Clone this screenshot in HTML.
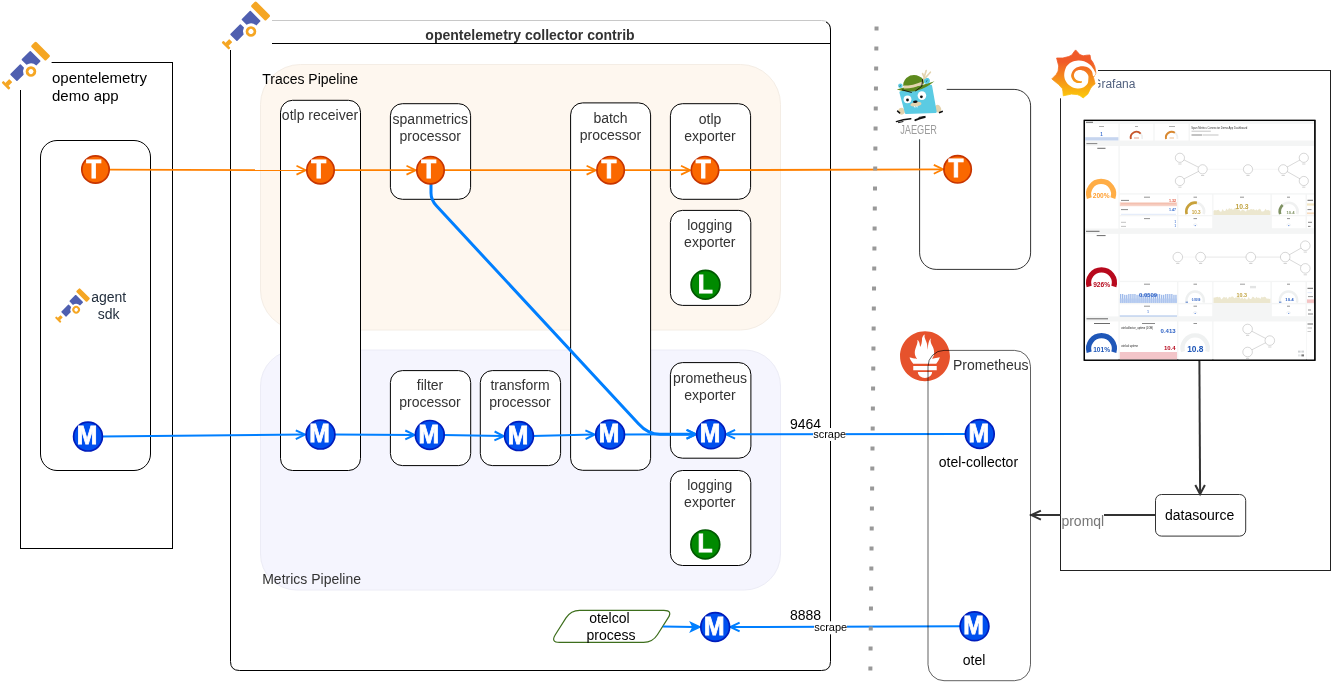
<!DOCTYPE html>
<html lang="en">
<head>
<meta charset="utf-8">
<title>OpenTelemetry collector pipelines</title>
<style>
html,body{margin:0;padding:0;background:#fff;}
body{width:1331px;height:686px;overflow:hidden;}
svg{display:block;will-change:transform;}
text{font-family:"Liberation Sans",Helvetica,Arial,sans-serif;}
.b{fill:#fff;stroke:#000;stroke-width:1;}
.bs{fill:none;stroke:#000;stroke-width:1;}
.lbl{font-size:14px;fill:#333;text-anchor:middle;}
.blk{font-size:14px;fill:#000;}
.ol{stroke:#ff8000;stroke-width:1.8;fill:none;}
.bl{stroke:#007fff;stroke-width:2;fill:none;}
.gl{stroke:#333;stroke-width:2;fill:none;}
.ct{font-size:26px;font-weight:bold;fill:#fff;text-anchor:middle;stroke:#fff;stroke-width:0.8px;}
</style>
</head>
<body>
<svg width="1331" height="686" viewBox="0 0 1331 686">
<defs>
<!-- icon symbols -->
<g id="otel">
  <rect x="-3.3" y="-10.3" width="7.2" height="21" rx="1.5" fill="#f5a623"/>
  <path d="M-7.4,-7.4 H-18.5 Q-19.3,-7.4 -19.3,-6.6 V-0.05 A8,8 0 0 1 -12.9,7.4 H-7.4 Q-6.6,7.4 -6.6,6.6 V-6.6 Q-6.6,-7.4 -7.4,-7.4 Z" fill="#4f5fb0"/>
  <circle cx="-20.9" cy="7.85" r="3.9" fill="none" stroke="#f5a623" stroke-width="2.8"/>
  <path d="M-23.9,-4.95 H-37 Q-37.8,-4.95 -37.8,-4.15 V4.1 Q-37.8,4.9 -37,4.9 H-28.33 A8,8 0 0 1 -23.1,0.16 V-4.15 Q-23.1,-4.95 -23.9,-4.95 Z" fill="#4f5fb0"/>
  <rect x="-47.4" y="-2.2" width="5.8" height="4.4" rx="0.6" fill="#f5a623"/>
  <rect x="-49.6" y="-5.1" width="2.7" height="10.1" rx="0.9" fill="#f5a623"/>
</g>
<g id="cT">
  <circle r="13.7" fill="#fa6800" stroke="#c73500" stroke-width="1.7"/>
  <text class="ct" transform="translate(-1.7,8) scale(0.94,1)" x="0" y="0">T</text>
</g>
<g id="cM">
  <circle r="14.4" fill="#0050ef" stroke="#001dbc" stroke-width="1.7"/>
  <text class="ct" transform="translate(-1,7.8) scale(0.95,1)" x="0" y="0">M</text>
</g>
<g id="cL">
  <circle r="14.4" fill="#008a00" stroke="#005700" stroke-width="1.7"/>
  <text class="ct" transform="translate(-0.3,8) scale(0.95,1)" x="0" y="0">L</text>
</g>
<linearGradient id="gg" x1="0" y1="0" x2="0" y2="1">
  <stop offset="0" stop-color="#f05a28"/>
  <stop offset="0.25" stop-color="#f05a28"/>
  <stop offset="1" stop-color="#fbca0a"/>
</linearGradient>
</defs>
<rect width="1331" height="686" fill="#fff"/>
<g id="regions">
  <!-- collector container -->
  <path d="M230.5,43.5 V661.5 Q230.5,670.5 239.5,670.5 H821.5 Q830.5,670.5 830.5,661.5 V29.5" fill="#fff" stroke="#000"/>
  <path d="M230.5,43.5 V29.5 Q230.5,20.5 239.5,20.5 H821.5 Q830.5,20.5 830.5,29.5" fill="#fff" stroke="#c8c8c8"/>
  <path d="M826,22 Q830.5,24 830.5,30 V43.5" fill="none" stroke="#000"/>
  <path d="M230.5,43.5 H830.5" fill="none" stroke="#000"/>
  <rect x="260.5" y="64.5" width="520" height="265.5" rx="40" fill="#fef7ef" stroke="#f4ede5"/>
  <rect x="260.5" y="350" width="520" height="240" rx="36" fill="#f5f5fe" stroke="#ececf6"/>
  <!-- demo app -->
  <rect class="b" x="20.5" y="62.5" width="152" height="486"/>
  <!-- grafana -->
  <rect x="1060.5" y="70.5" width="270" height="500" fill="#fff" stroke="#222"/>
</g>
<g id="boxfills" fill="#fff" stroke="none">
  <path d="M566.0,617.9 Q570.8,610.3 579.8,610.3 L663.9,610.3 Q672.9,610.3 668.1,617.9 L657.4,634.8 Q652.6,642.4 643.6,642.4 L559.5,642.4 Q550.5,642.4 555.3,634.8 Z"/>
  <rect x="40.5" y="140.5" width="110" height="330" rx="16.5"/>
  <rect x="280.5" y="100.3" width="80" height="370.2" rx="12"/>
  <rect x="390.4" y="103.7" width="80.2" height="95.6" rx="12"/>
  <rect x="570.6" y="102.9" width="80" height="367.4" rx="12"/>
  <rect x="670.4" y="103.7" width="80.2" height="95.6" rx="12"/>
  <rect x="670.4" y="210.4" width="80.4" height="95" rx="12"/>
  <rect x="390.4" y="370.6" width="80.3" height="95" rx="12"/>
  <rect x="480.3" y="370.6" width="80.3" height="95" rx="12"/>
  <rect x="670.4" y="362.6" width="80.5" height="95.6" rx="12"/>
  <rect x="670.4" y="470.5" width="80.4" height="95" rx="12"/>
  <rect x="919.6" y="89.4" width="111" height="180" rx="16.5"/>
  <rect x="1155.5" y="494.5" width="90.2" height="41.6" rx="6"/>
</g>
<g id="boxstrokes" fill="none" stroke-width="1">
  <path d="M566.0,617.9 Q570.8,610.3 579.8,610.3 L663.9,610.3 Q672.9,610.3 668.1,617.9 L657.4,634.8 Q652.6,642.4 643.6,642.4 L559.5,642.4 Q550.5,642.4 555.3,634.8 Z" stroke="#3d6e1c" stroke-width="1.2"/>
  <rect x="40.5" y="140.5" width="110" height="330" rx="16.5" stroke="#000"/>
  <rect x="280.5" y="100.3" width="80" height="370.2" rx="12" stroke="#000"/>
  <rect x="390.4" y="103.7" width="80.2" height="95.6" rx="12" stroke="#000"/>
  <rect x="570.6" y="102.9" width="80" height="367.4" rx="12" stroke="#000"/>
  <rect x="670.4" y="103.7" width="80.2" height="95.6" rx="12" stroke="#000"/>
  <rect x="670.4" y="210.4" width="80.4" height="95" rx="12" stroke="#000"/>
  <rect x="390.4" y="370.6" width="80.3" height="95" rx="12" stroke="#000"/>
  <rect x="480.3" y="370.6" width="80.3" height="95" rx="12" stroke="#000"/>
  <rect x="670.4" y="362.6" width="80.5" height="95.6" rx="12" stroke="#000"/>
  <rect x="670.4" y="470.5" width="80.4" height="95" rx="12" stroke="#000"/>
  <rect x="919.6" y="89.4" width="111" height="180" rx="16.5" stroke="#333"/>
  <rect x="1155.5" y="494.5" width="90.2" height="41.6" rx="6" stroke="#333"/>
</g>
<g id="edges">
  <path class="ol" d="M108.0,169.6 L304.9,170.2"/>
  <path class="ol" d="M296.5,174.6 L305.7,170.2 L296.5,165.8" stroke-linejoin="miter"/>
  <path class="ol" d="M333.0,170.2 L414.9,170.2"/>
  <path class="ol" d="M406.5,174.6 L415.7,170.2 L406.5,165.8" stroke-linejoin="miter"/>
  <path class="ol" d="M443.0,170.2 L595.0,170.2"/>
  <path class="ol" d="M586.6,174.6 L595.8,170.2 L586.6,165.8" stroke-linejoin="miter"/>
  <path class="ol" d="M623.0,170.2 L689.4,170.2"/>
  <path class="ol" d="M681.0,174.6 L690.2,170.2 L681.0,165.8" stroke-linejoin="miter"/>
  <path class="ol" d="M717.0,170.2 L942.2,169.3"/>
  <path class="ol" d="M933.8,173.7 L943.0,169.3 L933.8,164.9" stroke-linejoin="miter"/>
  <path class="bl" d="M101.0,436.5 L304.2,434.6"/>
  <path class="bl" d="M295.8,439.1 L305.0,434.6 L295.8,430.3" stroke-linejoin="miter"/>
  <path class="bl" d="M334.0,434.6 L413.7,434.9"/>
  <path class="bl" d="M405.3,439.3 L414.5,434.9 L405.3,430.5" stroke-linejoin="miter"/>
  <path class="bl" d="M443.0,434.9 L502.9,436.1"/>
  <path class="bl" d="M494.4,440.3 L503.7,436.1 L494.6,431.5" stroke-linejoin="miter"/>
  <path class="bl" d="M532.0,436.1 L593.9,434.5"/>
  <path class="bl" d="M585.6,439.1 L594.7,434.5 L585.4,430.3" stroke-linejoin="miter"/>
  <path class="bl" d="M624.0,434.4 L695.4,434.3"/>
  <path class="bl" d="M687.0,438.7 L696.2,434.3 L687.0,429.9" stroke-linejoin="miter"/>
  <path class="bl" d="M966.0,434.0 L726.7,434.3"/>
  <path class="bl" d="M735.1,429.9 L725.9,434.3 L735.1,438.7" stroke-linejoin="miter"/>
  <path class="bl" d="M961.0,626.2 L731.2,627.0"/>
  <path class="bl" d="M739.6,622.6 L730.4,627.0 L739.6,631.4" stroke-linejoin="miter"/>
  <path d="M431,183 V193 Q431,200 436.4,205.8 L638.5,423.7 Q648,434.3 660,434.3 H694" fill="none" stroke="#007fff" stroke-width="3"/>
  <path d="M686.4,429.9 L695.6,434.3 L686.4,438.7" fill="none" stroke="#007fff" stroke-width="2.1"/>
  <path class="bl" d="M663,626.6 L694,627"/>
  <path d="M700,627 L690.8,622.7 L693,627 L690.8,631.3 Z" fill="#007fff" stroke="#007fff" stroke-width="1.5" stroke-linejoin="miter"/>
  <path class="gl" d="M1199.4,360.5 L1200.1,493.2"/>
  <path class="gl" d="M1195.3,485.0 L1200.1,494.0 L1204.9,485.0" stroke-linejoin="miter"/>
  <path class="gl" d="M1155.5,515.1 L1032.1,515.1"/>
  <path class="gl" d="M1040.9,510.6 L1031.3,515.1 L1040.9,519.6" stroke-linejoin="miter"/>
  <path d="M876.55,26.6 L870.35,672.3" fill="none" stroke="#999" stroke-width="4" stroke-dasharray="4 16.001"/>
</g>
<g id="icons">
  <rect x="0" y="40" width="51.6" height="50" fill="#fff"/>
  <use href="#otel" transform="translate(40.2,51.2) rotate(-45)"/>
  <rect x="220" y="0" width="52" height="50" fill="#fff"/>
  <use href="#otel" transform="translate(260.2,11.1) rotate(-45)"/>
  <use href="#otel" transform="translate(82.8,295.1) rotate(-45) scale(0.72)"/>
  <use href="#cT" x="95.5" y="169.5"/>
  <use href="#cT" x="320.5" y="170.2"/>
  <use href="#cT" x="430.5" y="170.2"/>
  <use href="#cT" x="610.6" y="170.2"/>
  <use href="#cT" x="705" y="170.2"/>
  <use href="#cT" x="957.6" y="169.3"/>
  <use href="#cM" x="88" y="436.6"/>
  <use href="#cM" x="320.5" y="434.6"/>
  <use href="#cM" x="429.8" y="434.9"/>
  <use href="#cM" x="519" y="436.1"/>
  <use href="#cM" x="610.1" y="434.5"/>
  <use href="#cM" x="711" y="434.3"/>
  <use href="#cM" x="979.8" y="434"/>
  <use href="#cM" x="715.2" y="627"/>
  <use href="#cM" x="974.5" y="626.3"/>
  <use href="#cL" x="705.5" y="284.7"/>
  <use href="#cL" x="705.3" y="544.4"/>
  <g transform="translate(899.9,331) scale(0.4363)">
    <path fill="#e6522c" d="M57.5,0.5 C25.9,0.5 0.3,26.1 0.3,57.7 C0.3,89.3 25.9,114.9 57.5,114.9 C89.1,114.9 114.7,89.3 114.7,57.7 C114.7,26.1 89.1,0.5 57.5,0.5 Z M57.5,107.6 C48.5,107.6 41.2,101.6 41.2,94.2 L73.8,94.2 C73.8,101.6 66.5,107.6 57.5,107.6 Z M84.4,89.7 L30.6,89.7 L30.6,80 L84.4,80 L84.4,89.7 Z M84.2,74.9 L30.7,74.9 C30.5,74.7 30.3,74.5 30.2,74.3 C24.7,67.6 23.4,64.1 22.1,60.5 C22.1,60.4 28.8,61.9 33.5,63 C33.5,63 35.9,63.5 39.5,64.2 C36.1,60.2 34.1,55.1 34.1,50 C34.1,38.6 42.8,28.7 39.7,20.7 C42.7,20.9 46,27.1 46.2,36.8 C49.4,32.4 50.7,24.3 50.7,19.3 C50.7,14.2 54.1,8.2 57.5,8 C54.5,13 58.3,17.2 61.7,27.8 C63,31.8 62.8,38.5 63.8,42.8 C64.1,33.9 65.6,21 71.2,16.5 C68.7,22.1 71.6,29.1 73.5,32.4 C76.6,37.8 78.5,41.9 78.5,49.6 C78.5,54.8 76.6,59.7 73.4,63.5 C77.1,62.8 79.6,62.2 79.6,62.2 L91.5,59.9 C91.5,59.9 89.8,67 83.2,74.9 Z"/>
  </g>
  <rect x="928" y="350.4" width="102.5" height="330.3" rx="16" fill="none" stroke="#000" stroke-opacity="0.62"/>
  <g id="jaeger">
    <rect x="893" y="64" width="53.7" height="75.3" fill="#fff"/>
    <!-- feet -->
    <ellipse cx="901.6" cy="111.2" rx="3" ry="3.4" fill="#e3d3ae" transform="rotate(-25 901.6 111.2)"/>
    <ellipse cx="937.8" cy="108.6" rx="3.1" ry="3.8" fill="#e3d3ae" transform="rotate(-30 937.8 108.6)"/>
    <path d="M897.6,111.2 l2,1.6 M939.6,112.6 l2.6,-1.2" stroke="#111" stroke-width="1.6" stroke-linecap="round" fill="none"/>
    <!-- ears -->
    <circle cx="900.4" cy="85.8" r="2.3" fill="#5bcbe3"/>
    <circle cx="926.8" cy="81" r="2.9" fill="#5bcbe3"/>
    <!-- body -->
    <path d="M900.5,92.4 L931,85.9 L935.6,112 L906,113 Z" fill="#5bcbe3" stroke="#5bcbe3" stroke-width="2.2" stroke-linejoin="round"/>
    <!-- brim -->
    <path d="M896.8,89.6 Q904,86.5 910,87 Q922,86 934.4,81.3 Q926,88.5 916,91 Q905,92.5 896.8,89.6 Z" fill="#5d8a1d"/>
    <circle cx="926.9" cy="80.8" r="2.7" fill="#5bcbe3"/>
    <!-- dome -->
    <path d="M903.2,86 Q902.8,79.4 910.2,75.6 Q918,73.6 923.4,79.6 L924,83.5 Q913,87.5 903.2,86 Z" fill="#5d8a1d"/>
    <!-- band -->
    <path d="M903.4,85.6 Q913,85.6 922.4,81.4 L922.8,84.2 Q913,88.6 904,88.4 Z" fill="#e3d3ae"/>
    <!-- feather -->
    <path d="M923.6,79 L926.2,70.6 M925,78.2 L930.4,72.2 M924.4,78 L922.6,73.6" stroke="#e3d3ae" stroke-width="1.6" stroke-linecap="round" fill="none"/>
    <path d="M926.2,82 l1.2,-2.2" stroke="#2a6f80" stroke-width="0.8" fill="none"/>
    <path d="M899.6,87 l1,-2" stroke="#2a6f80" stroke-width="0.8" fill="none"/>
    <!-- eyebrows -->
    <path d="M902.6,90 L911.4,92.4 M915.6,90.8 L921.8,86.4 L922.6,79.6" stroke="#111" stroke-width="0.9" fill="none" stroke-linecap="round" stroke-linejoin="round"/>
    <!-- eyes -->
    <circle cx="907.5" cy="99.3" r="3.9" fill="#fff"/>
    <circle cx="921.9" cy="95.6" r="4.3" fill="#fff"/>
    <circle cx="907.5" cy="100" r="1.4" fill="#111"/>
    <circle cx="921.4" cy="96.8" r="1.4" fill="#111"/>
    <!-- snout -->
    <ellipse cx="915.9" cy="104.2" rx="5.6" ry="2.3" fill="#e3d3ae" transform="rotate(-8 915.9 104.2)"/>
    <ellipse cx="915.3" cy="101.7" rx="2.3" ry="1.2" fill="#111" transform="rotate(-8 915.3 101.7)"/>
    <path d="M914.6,106 l0.4,1.6 M916.8,105.8 l0.4,1.6" stroke="#fff" stroke-width="1" fill="none"/>
    <!-- skid marks -->
    <path d="M896.4,121.6 Q903,119.4 910.8,118.8" stroke="#111" stroke-width="1.4" stroke-linecap="round" fill="none"/>
    <path d="M898.5,122.6 L903,121.6" stroke="#111" stroke-width="1" stroke-linecap="round" fill="none"/>
    <path d="M915.3,120.2 Q920,118.4 924.8,117.2" stroke="#111" stroke-width="1.8" stroke-linecap="round" fill="none"/>
    <path d="M919,117.4 L925,116.4" stroke="#111" stroke-width="1" stroke-linecap="round" fill="none"/>
    <text x="900.2" y="134.2" textLength="36.8" lengthAdjust="spacingAndGlyphs" style="font-size:12.4px;fill:#9c9c9c;font-weight:normal">JAEGER</text>
  </g>
  <text x="1092.1" y="87.8" style="font-size:12px;fill:#52617f">Grafana</text>
  <g id="grafana">
    <rect x="1047" y="46" width="51" height="52.3" fill="#fff"/>
    <path d="M1075.6,49.9 L1077.5,52.0 L1079.8,54.6 L1083.2,55.8 L1086.6,55.2 L1090.0,55.0 L1090.7,59.2 L1093.0,62.6 L1094.9,66.8 L1095.9,73.2 L1093.5,77.4 L1095.1,83.8 L1092.1,86.3 L1090.4,88.8 L1087.9,93.9 L1083.2,97.9 L1079.8,95.6 L1077.3,94.6 L1071.4,94.1 L1063.3,95.8 L1062.9,91.4 L1062.5,88.8 L1058.7,84.6 L1051.8,78.9 L1056.2,74.5 L1058.1,71.1 L1058.7,66.0 L1056.6,58.0 L1062.9,58.0 L1068.8,56.5 L1071.8,55.0 L1073.9,52.0 Z" fill="url(#gg)" stroke="url(#gg)" stroke-width="0.8" stroke-linejoin="round"/>
    <path d="M1095.75,73.19 C1095.75,73.19 1094.34,70.37 1093.38,68.96 C1092.42,67.55 1091.54,66.00 1089.99,64.73 C1088.44,63.46 1086.05,62.05 1084.07,61.34 C1082.10,60.64 1080.26,60.36 1078.15,60.50 C1076.03,60.64 1073.35,61.13 1071.38,62.19 C1069.41,63.25 1067.50,64.66 1066.30,66.84 C1065.11,69.03 1064.19,72.76 1064.19,75.30 C1064.19,77.84 1065.11,80.17 1066.30,82.07 C1067.50,83.97 1069.55,85.67 1071.38,86.72 C1073.21,87.78 1075.33,88.28 1077.30,88.42 C1079.28,88.56 1081.53,88.35 1083.23,87.57 C1084.92,86.79 1086.61,85.10 1087.46,83.76 C1088.30,82.42 1088.19,80.94 1088.30,79.53 C1088.41,78.12 1088.70,76.64 1088.13,75.30 C1087.57,73.96 1086.30,72.37 1084.92,71.50 C1083.54,70.62 1081.39,70.06 1079.84,70.06 C1078.29,70.06 1076.60,70.62 1075.61,71.50 C1074.62,72.37 1073.99,74.10 1073.92,75.30 C1073.85,76.50 1074.48,77.77 1075.19,78.69 C1075.89,79.60 1077.02,80.38 1078.15,80.80 C1079.28,81.23 1081.96,81.23 1081.96,81.23 C1081.96,81.23 1082.31,82.38 1081.53,82.66 C1080.76,82.95 1078.71,83.30 1077.30,82.92 C1075.89,82.54 1074.10,81.65 1073.07,80.38 C1072.04,79.11 1070.99,77.14 1071.13,75.30 C1071.27,73.47 1072.47,70.86 1073.92,69.38 C1075.37,67.90 1077.58,66.77 1079.84,66.42 C1082.10,66.07 1085.48,66.49 1087.46,67.27 C1089.43,68.04 1090.74,69.59 1091.69,71.07 C1092.63,72.55 1092.63,75.42 1093.12,76.15 C1093.62,76.88 1094.65,75.47 1094.65,75.47 C1094.65,75.47 1095.75,73.19 1095.75,73.19 Z" fill="#fff"/>
  </g>
  <g id="dash">
    <rect x="1084.3" y="120.4" width="230.6" height="239.8" fill="#f4f5f5" stroke="#000" stroke-width="1.2"/>
    <path d="M1086.0,122.3 L1093.0,122.3" stroke="#444" stroke-width="0.8" fill="none"/>
    <rect x="1085.2" y="123.8" width="33.2" height="16.7" fill="#fff"/>
    <rect x="1085.2" y="137.2" width="33.2" height="3.3" fill="#c6d5ef"/>
    <text x="1101.6" y="135.6" text-anchor="middle" style="font-size:4.5px;fill:#3a6fd0;font-weight:bold">1</text>
    <path d="M1099.0,126.5 L1104.0,126.5" stroke="#777" stroke-width="0.6" fill="none"/>
    <rect x="1119.8" y="123.8" width="33.5" height="16.7" fill="#fff"/>
    <path d="M1130.87,139.00 A5.8,5.8 0 1 1 1142.13,139.00" fill="none" stroke="#eef0f0" stroke-width="1.9"/>
    <path d="M1130.87,139.00 A5.8,5.8 0 0 1 1140.66,133.55" fill="none" stroke="#c8562b" stroke-width="1.9"/>
    <path d="M1135.0,126.5 L1138.0,126.5" stroke="#777" stroke-width="0.6" fill="none"/>
    <path d="M1134.0,138.0 L1139.0,138.0" stroke="#d9795a" stroke-width="0.7" fill="none"/>
    <rect x="1154.7" y="123.8" width="33.8" height="16.7" fill="#fff"/>
    <path d="M1166.07,139.00 A5.8,5.8 0 1 1 1177.33,139.00" fill="none" stroke="#eef0f0" stroke-width="1.9"/>
    <path d="M1166.07,139.00 A5.8,5.8 0 0 1 1174.88,132.75" fill="none" stroke="#d9882f" stroke-width="1.9"/>
    <path d="M1169.0,126.5 L1175.0,126.5" stroke="#777" stroke-width="0.6" fill="none"/>
    <path d="M1169.5,138.0 L1174.0,138.0" stroke="#e2a566" stroke-width="0.7" fill="none"/>
    <rect x="1190.0" y="123.8" width="124.0" height="16.7" fill="#fff"/>
    <text x="1191.2" y="128.6" text-anchor="start" style="font-size:2.7px;fill:#333;font-weight:normal">Span Metrics Connector Demo App Dashboard</text>
    <path d="M1191.5,131.2 L1210.8,131.2" stroke="#aaa" stroke-width="0.7" fill="none"/>
    <path d="M1191.5,135.0 L1202.0,135.0" stroke="#555" stroke-width="0.7" fill="none"/>
    <path d="M1202.5,135.0 L1218.5,135.0" stroke="#aaa" stroke-width="0.7" fill="none"/>
    <path d="M1086.4,143.6 L1097.3,143.6" stroke="#666" stroke-width="0.8" fill="none"/>
    <rect x="1085.2" y="146.0" width="33.2" height="82.5" fill="#fff"/>
    <path d="M1097.3,148.3 L1105.5,148.3" stroke="#444" stroke-width="0.8" fill="none"/>
    <path d="M1089.35,198.18 A12.5,12.5 0 1 1 1112.85,198.18" fill="none" stroke="#ffad46" stroke-width="5.2"/>
    <text x="1101.2" y="198.4" text-anchor="middle" style="font-size:6.6px;fill:#ff9f30;font-weight:bold">200%</text>
    <rect x="1119.8" y="146.0" width="194.2" height="47.2" fill="#fff"/>
    <path d="M1179.9,157.8 L1202.6,169.3" stroke="#aaa" stroke-width="0.45" fill="none"/>
    <path d="M1179.9,181.0 L1202.6,169.3" stroke="#aaa" stroke-width="0.45" fill="none"/>
    <path d="M1283.2,169.3 L1303.8,157.8" stroke="#aaa" stroke-width="0.45" fill="none"/>
    <path d="M1283.2,169.3 L1303.8,181.0" stroke="#aaa" stroke-width="0.45" fill="none"/>
    <path d="M1202.6,169.3 L1283.2,169.3" stroke="#ececec" stroke-width="0.5" fill="none"/>
    <circle cx="1179.9" cy="157.8" r="4.6" fill="#fff" stroke="#9a9a9a" stroke-width="0.4"/>
    <path d="M1178.3,164.0 L1181.5,164.0" stroke="#b5b5b5" stroke-width="0.6" fill="none"/>
    <circle cx="1179.9" cy="181.0" r="4.6" fill="#fff" stroke="#9a9a9a" stroke-width="0.4"/>
    <path d="M1178.3,187.2 L1181.5,187.2" stroke="#b5b5b5" stroke-width="0.6" fill="none"/>
    <circle cx="1202.6" cy="169.3" r="4.6" fill="#fff" stroke="#9a9a9a" stroke-width="0.4"/>
    <path d="M1201.0,175.5 L1204.2,175.5" stroke="#b5b5b5" stroke-width="0.6" fill="none"/>
    <circle cx="1248.0" cy="169.3" r="4.6" fill="#fff" stroke="#9a9a9a" stroke-width="0.4"/>
    <path d="M1246.4,175.5 L1249.6,175.5" stroke="#b5b5b5" stroke-width="0.6" fill="none"/>
    <circle cx="1283.2" cy="169.3" r="4.6" fill="#fff" stroke="#9a9a9a" stroke-width="0.4"/>
    <path d="M1281.6,175.5 L1284.8,175.5" stroke="#b5b5b5" stroke-width="0.6" fill="none"/>
    <circle cx="1303.8" cy="157.8" r="4.6" fill="#fff" stroke="#9a9a9a" stroke-width="0.4"/>
    <path d="M1302.2,164.0 L1305.4,164.0" stroke="#b5b5b5" stroke-width="0.6" fill="none"/>
    <circle cx="1303.8" cy="181.0" r="4.6" fill="#fff" stroke="#9a9a9a" stroke-width="0.4"/>
    <path d="M1302.2,187.2 L1305.4,187.2" stroke="#b5b5b5" stroke-width="0.6" fill="none"/>
    <rect x="1119.8" y="194.6" width="57.2" height="20.4" fill="#fff"/>
    <path d="M1144.0,197.2 L1150.0,197.2" stroke="#666" stroke-width="0.7" fill="none"/>
    <rect x="1119.8" y="202.3" width="57.2" height="3.9" fill="#f7d3c7"/>
    <path d="M1121.0,203.8 L1176.0,203.8" stroke="#ee9f88" stroke-width="0.5" fill="none"/>
    <path d="M1121.0,200.4 L1129.0,200.4" stroke="#555" stroke-width="0.7" fill="none"/>
    <text x="1176.0" y="201.6" text-anchor="end" style="font-size:3.6px;fill:#e0563d;font-weight:bold">1.32</text>
    <path d="M1121.0,209.6 L1128.0,209.6" stroke="#555" stroke-width="0.7" fill="none"/>
    <text x="1176.0" y="210.8" text-anchor="end" style="font-size:3.6px;fill:#3a6fd0;font-weight:bold">1.47</text>
    <path d="M1121.0,214.3 L1176.0,214.3" stroke="#c9d8f3" stroke-width="0.6" fill="none"/>
    <rect x="1178.4" y="194.6" width="33.8" height="20.4" fill="#fff"/>
    <path d="M1193.5,197.2 L1197.0,197.2" stroke="#666" stroke-width="0.7" fill="none"/>
    <path d="M1186.69,214.20 A8.9,8.9 0 1 1 1203.71,214.20" fill="none" stroke="#f0f1f1" stroke-width="2.6"/>
    <path d="M1186.69,214.20 A8.9,8.9 0 0 1 1196.85,202.85" fill="none" stroke="#c8a13a" stroke-width="2.6"/>
    <text x="1196.2" y="214.0" text-anchor="middle" style="font-size:4.6px;fill:#c8a13a;font-weight:bold">10.3</text>
    <rect x="1213.5" y="194.6" width="56.9" height="20.4" fill="#fff"/>
    <path d="M1240.0,197.2 L1244.0,197.2" stroke="#666" stroke-width="0.7" fill="none"/>
    <path d="M1213.5,215.0 L1213.5,211.0 L1214.8,210.1 L1216.1,210.6 L1217.4,209.9 L1218.7,209.8 L1220.0,211.6 L1221.3,211.8 L1222.6,209.1 L1223.9,211.0 L1225.2,211.1 L1226.5,208.6 L1227.8,210.3 L1229.1,207.9 L1230.4,209.1 L1231.7,208.6 L1233.0,210.1 L1234.3,208.6 L1235.6,207.8 L1236.9,208.9 L1238.2,209.4 L1239.5,209.7 L1240.8,211.6 L1242.1,209.4 L1243.4,209.9 L1244.7,210.8 L1246.0,211.7 L1247.3,209.0 L1248.6,210.3 L1249.9,209.5 L1251.2,209.0 L1252.5,209.5 L1253.8,208.9 L1255.1,210.5 L1256.4,209.2 L1257.7,210.4 L1259.0,208.8 L1260.3,209.0 L1261.6,211.5 L1262.9,211.4 L1264.2,211.1 L1265.5,208.7 L1266.8,210.4 L1268.1,209.8 L1269.4,210.8 L1270.4,210.5 L1270.4,215.0 Z" fill="#ece7cf"/>
    <text x="1242.0" y="209.2" text-anchor="middle" style="font-size:6.8px;fill:#c1a442;font-weight:bold">10.3</text>
    <rect x="1271.9" y="194.6" width="33.6" height="20.4" fill="#fff"/>
    <path d="M1287.0,197.2 L1290.0,197.2" stroke="#666" stroke-width="0.7" fill="none"/>
    <path d="M1280.19,214.20 A8.9,8.9 0 1 1 1297.21,214.20" fill="none" stroke="#f0f1f1" stroke-width="2.6"/>
    <path d="M1280.19,214.20 A8.9,8.9 0 0 1 1282.65,205.07" fill="none" stroke="#7f9263" stroke-width="2.6"/>
    <text x="1290.5" y="214.0" text-anchor="middle" style="font-size:4.2px;fill:#7f9263;font-weight:bold">10.4</text>
    <rect x="1307.0" y="194.6" width="7.0" height="20.4" fill="#fff"/>
    <rect x="1307.0" y="203.4" width="7.0" height="2.2" fill="#f3e6c4"/>
    <rect x="1307.0" y="212.4" width="7.0" height="1.8" fill="#f7dcc0"/>
    <path d="M1307.5,200.3 L1313.0,200.3" stroke="#444" stroke-width="0.8" fill="none"/>
    <path d="M1307.5,209.6 L1311.5,209.6" stroke="#555" stroke-width="0.7" fill="none"/>
    <rect x="1119.8" y="216.3" width="57.2" height="11.9" fill="#fff"/>
    <path d="M1144.0,218.6 L1150.0,218.6" stroke="#666" stroke-width="0.7" fill="none"/>
    <path d="M1121.0,222.3 L1126.0,222.3" stroke="#999" stroke-width="0.6" fill="none"/>
    <path d="M1121.0,226.4 L1126.0,226.4" stroke="#999" stroke-width="0.6" fill="none"/>
    <text x="1176.0" y="223.4" text-anchor="end" style="font-size:2.6px;fill:#3a6fd0;font-weight:bold">1</text>
    <text x="1176.0" y="227.4" text-anchor="end" style="font-size:2.6px;fill:#3a6fd0;font-weight:bold">1</text>
    <rect x="1178.4" y="216.3" width="33.8" height="11.9" fill="#fff"/>
    <path d="M1193.5,218.6 L1197.0,218.6" stroke="#666" stroke-width="0.7" fill="none"/>
    <path d="M1193.30,225.60 A1.9,1.9 0 0 1 1197.10,225.60" fill="none" stroke="#dfe3e8" stroke-width="0.5"/>
    <path d="M1194.6,225.6 L1196.0,225.6" stroke="#3a6fd0" stroke-width="0.7" fill="none"/>
    <rect x="1271.9" y="216.3" width="33.6" height="11.9" fill="#fff"/>
    <path d="M1287.0,218.6 L1290.0,218.6" stroke="#666" stroke-width="0.7" fill="none"/>
    <path d="M1286.80,225.60 A1.9,1.9 0 0 1 1290.60,225.60" fill="none" stroke="#dfe3e8" stroke-width="0.5"/>
    <path d="M1288.0,225.6 L1289.4,225.6" stroke="#3a6fd0" stroke-width="0.7" fill="none"/>
    <rect x="1307.0" y="216.3" width="7.0" height="11.9" fill="#fff"/>
    <path d="M1308.0,222.3 L1312.0,222.3" stroke="#555" stroke-width="0.7" fill="none"/>
    <path d="M1308.0,226.4 L1310.5,226.4" stroke="#555" stroke-width="0.7" fill="none"/>
    <path d="M1086.0,231.3 L1099.5,231.3" stroke="#555" stroke-width="0.9" fill="none"/>
    <rect x="1085.2" y="233.9" width="33.2" height="82.5" fill="#fff"/>
    <path d="M1096.7,235.6 L1105.6,235.6" stroke="#444" stroke-width="0.8" fill="none"/>
    <path d="M1089.16,286.47 A12.9,12.9 0 1 1 1113.84,286.47" fill="none" stroke="#b7091d" stroke-width="5.2"/>
    <text x="1101.6" y="286.6" text-anchor="middle" style="font-size:6.6px;fill:#b7091d;font-weight:bold">926%</text>
    <rect x="1119.8" y="233.9" width="194.2" height="46.9" fill="#fff"/>
    <path d="M1200.6,257.1 L1285.2,257.1" stroke="#cfcfcf" stroke-width="0.5" fill="none"/>
    <path d="M1182.0,257.1 L1196.0,257.1" stroke="#ececec" stroke-width="0.5" fill="none"/>
    <path d="M1285.2,257.1 L1305.3,245.7" stroke="#aaa" stroke-width="0.45" fill="none"/>
    <path d="M1285.2,257.1 L1305.3,268.4" stroke="#aaa" stroke-width="0.45" fill="none"/>
    <circle cx="1177.8" cy="257.1" r="4.8" fill="#fff" stroke="#9a9a9a" stroke-width="0.4"/>
    <path d="M1176.2,263.5 L1179.4,263.5" stroke="#b5b5b5" stroke-width="0.6" fill="none"/>
    <circle cx="1200.6" cy="257.1" r="4.8" fill="#fff" stroke="#9a9a9a" stroke-width="0.4"/>
    <path d="M1199.0,263.5 L1202.2,263.5" stroke="#b5b5b5" stroke-width="0.6" fill="none"/>
    <circle cx="1250.8" cy="257.1" r="4.8" fill="#fff" stroke="#9a9a9a" stroke-width="0.4"/>
    <path d="M1249.2,263.5 L1252.4,263.5" stroke="#b5b5b5" stroke-width="0.6" fill="none"/>
    <circle cx="1285.2" cy="257.1" r="4.8" fill="#fff" stroke="#9a9a9a" stroke-width="0.4"/>
    <path d="M1283.6,263.5 L1286.8,263.5" stroke="#b5b5b5" stroke-width="0.6" fill="none"/>
    <circle cx="1305.3" cy="245.7" r="4.8" fill="#fff" stroke="#9a9a9a" stroke-width="0.4"/>
    <path d="M1303.7,252.1 L1306.9,252.1" stroke="#b5b5b5" stroke-width="0.6" fill="none"/>
    <circle cx="1305.3" cy="268.4" r="4.8" fill="#fff" stroke="#9a9a9a" stroke-width="0.4"/>
    <path d="M1303.7,274.8 L1306.9,274.8" stroke="#b5b5b5" stroke-width="0.6" fill="none"/>
    <rect x="1119.8" y="282.1" width="57.2" height="20.8" fill="#fff"/>
    <path d="M1144.0,284.2 L1150.0,284.2" stroke="#666" stroke-width="0.7" fill="none"/>
    <rect x="1120.0" y="294.0" width="1.3" height="8.9" fill="#9db9ea"/>
    <rect x="1122.0" y="294.0" width="1.3" height="8.9" fill="#9db9ea"/>
    <rect x="1124.1" y="294.8" width="1.3" height="8.1" fill="#9db9ea"/>
    <rect x="1126.1" y="294.8" width="1.3" height="8.1" fill="#9db9ea"/>
    <rect x="1128.2" y="294.0" width="1.3" height="8.9" fill="#9db9ea"/>
    <rect x="1130.2" y="294.0" width="1.3" height="8.9" fill="#9db9ea"/>
    <rect x="1132.3" y="294.0" width="1.3" height="8.9" fill="#9db9ea"/>
    <rect x="1134.3" y="294.0" width="1.3" height="8.9" fill="#9db9ea"/>
    <rect x="1136.4" y="294.8" width="1.3" height="8.1" fill="#9db9ea"/>
    <rect x="1138.4" y="294.8" width="1.3" height="8.1" fill="#9db9ea"/>
    <rect x="1140.5" y="294.0" width="1.3" height="8.9" fill="#9db9ea"/>
    <rect x="1142.5" y="294.0" width="1.3" height="8.9" fill="#9db9ea"/>
    <rect x="1144.6" y="294.0" width="1.3" height="8.9" fill="#9db9ea"/>
    <rect x="1146.6" y="294.0" width="1.3" height="8.9" fill="#9db9ea"/>
    <rect x="1148.7" y="294.8" width="1.3" height="8.1" fill="#9db9ea"/>
    <rect x="1150.7" y="294.8" width="1.3" height="8.1" fill="#9db9ea"/>
    <rect x="1152.8" y="294.0" width="1.3" height="8.9" fill="#9db9ea"/>
    <rect x="1154.8" y="294.0" width="1.3" height="8.9" fill="#9db9ea"/>
    <rect x="1156.9" y="294.0" width="1.3" height="8.9" fill="#9db9ea"/>
    <rect x="1158.9" y="294.0" width="1.3" height="8.9" fill="#9db9ea"/>
    <rect x="1161.0" y="294.8" width="1.3" height="8.1" fill="#9db9ea"/>
    <rect x="1163.0" y="294.8" width="1.3" height="8.1" fill="#9db9ea"/>
    <rect x="1165.1" y="294.0" width="1.3" height="8.9" fill="#9db9ea"/>
    <rect x="1167.1" y="294.0" width="1.3" height="8.9" fill="#9db9ea"/>
    <rect x="1169.2" y="294.0" width="1.3" height="8.9" fill="#9db9ea"/>
    <rect x="1171.2" y="294.0" width="1.3" height="8.9" fill="#9db9ea"/>
    <rect x="1173.3" y="294.8" width="1.3" height="8.1" fill="#9db9ea"/>
    <rect x="1175.3" y="294.8" width="1.3" height="8.1" fill="#9db9ea"/>
    <rect x="1119.8" y="298.5" width="57.2" height="4.4" fill="#b4c9ef" fill-opacity="0.7"/>
    <text x="1148.0" y="296.7" text-anchor="middle" style="font-size:5.9px;fill:#2a5fc4;font-weight:bold">0.0509</text>
    <rect x="1178.4" y="282.1" width="33.8" height="20.8" fill="#fff"/>
    <path d="M1193.5,284.2 L1197.0,284.2" stroke="#666" stroke-width="0.7" fill="none"/>
    <path d="M1186.74,302.60 A8.7,8.7 0 1 1 1203.46,302.60" fill="none" stroke="#eef0f0" stroke-width="2.4"/>
    <text x="1196.0" y="300.6" text-anchor="middle" style="font-size:2.8px;fill:#2a5fc4;font-weight:bold">0.0509</text>
    <path d="M1185.6,302.2 L1188.0,302.2" stroke="#2a5fc4" stroke-width="0.8" fill="none"/>
    <rect x="1213.5" y="282.1" width="56.9" height="20.8" fill="#fff"/>
    <path d="M1240.0,284.2 L1245.0,284.2" stroke="#777" stroke-width="0.7" fill="none"/>
    <path d="M1213.5,302.9 L1213.5,297.7 L1214.8,297.4 L1216.1,297.2 L1217.4,296.8 L1218.7,297.4 L1220.0,296.8 L1221.3,299.5 L1222.6,298.2 L1223.9,296.8 L1225.2,297.7 L1226.5,296.9 L1227.8,299.3 L1229.1,296.8 L1230.4,297.5 L1231.7,296.6 L1233.0,296.5 L1234.3,298.2 L1235.6,297.5 L1236.9,297.4 L1238.2,296.9 L1239.5,297.3 L1240.8,299.1 L1242.1,297.2 L1243.4,299.2 L1244.7,297.7 L1246.0,299.2 L1247.3,299.6 L1248.6,297.0 L1249.9,299.0 L1251.2,299.0 L1252.5,296.7 L1253.8,297.0 L1255.1,298.7 L1256.4,296.7 L1257.7,298.0 L1259.0,297.6 L1260.3,299.0 L1261.6,296.8 L1262.9,297.5 L1264.2,296.7 L1265.5,296.9 L1266.8,298.7 L1268.1,298.5 L1269.4,299.1 L1270.4,298.5 L1270.4,302.9 Z" fill="#ece7cf"/>
    <text x="1241.7" y="296.6" text-anchor="middle" style="font-size:5.4px;fill:#c1a442;font-weight:bold">10.3</text>
    <rect x="1271.9" y="282.1" width="33.6" height="20.8" fill="#fff"/>
    <path d="M1287.0,284.2 L1290.0,284.2" stroke="#666" stroke-width="0.7" fill="none"/>
    <path d="M1280.14,302.60 A8.7,8.7 0 1 1 1296.86,302.60" fill="none" stroke="#eef0f0" stroke-width="2.4"/>
    <text x="1289.5" y="301.4" text-anchor="middle" style="font-size:4.4px;fill:#2a5fc4;font-weight:bold">10.4</text>
    <path d="M1279.0,302.2 L1281.4,302.2" stroke="#2a5fc4" stroke-width="0.8" fill="none"/>
    <rect x="1307.0" y="282.1" width="7.0" height="20.8" fill="#fff"/>
    <rect x="1307.0" y="299.4" width="7.0" height="3.5" fill="#f4c4c4"/>
    <path d="M1307.5,288.3 L1313.0,288.3" stroke="#444" stroke-width="0.8" fill="none"/>
    <path d="M1307.5,292.6 L1312.0,292.6" stroke="#c9d8f3" stroke-width="0.6" fill="none"/>
    <path d="M1308.0,296.6 L1313.0,296.6" stroke="#666" stroke-width="0.7" fill="none"/>
    <rect x="1119.8" y="304.3" width="57.2" height="11.9" fill="#fff"/>
    <path d="M1144.0,306.2 L1150.0,306.2" stroke="#666" stroke-width="0.7" fill="none"/>
    <path d="M1119.8,316.0 L1177.0,316.0" stroke="#7ea3e0" stroke-width="0.7" fill="none"/>
    <text x="1148.0" y="312.6" text-anchor="middle" style="font-size:2.8px;fill:#3a6fd0;font-weight:bold">1</text>
    <rect x="1178.4" y="304.3" width="33.8" height="11.9" fill="#fff"/>
    <path d="M1193.5,306.2 L1197.0,306.2" stroke="#666" stroke-width="0.7" fill="none"/>
    <path d="M1193.20,313.40 A1.9,1.9 0 0 1 1197.00,313.40" fill="none" stroke="#dfe3e8" stroke-width="0.5"/>
    <path d="M1194.5,313.4 L1196.0,313.4" stroke="#3a6fd0" stroke-width="0.7" fill="none"/>
    <rect x="1271.9" y="304.3" width="33.6" height="11.9" fill="#fff"/>
    <path d="M1287.0,306.2 L1290.0,306.2" stroke="#666" stroke-width="0.7" fill="none"/>
    <path d="M1286.60,313.40 A1.9,1.9 0 0 1 1290.40,313.40" fill="none" stroke="#dfe3e8" stroke-width="0.5"/>
    <path d="M1288.0,313.4 L1289.3,313.4" stroke="#3a6fd0" stroke-width="0.7" fill="none"/>
    <rect x="1307.0" y="304.3" width="7.0" height="11.9" fill="#fff"/>
    <path d="M1308.0,310.0 L1311.0,310.0" stroke="#555" stroke-width="0.7" fill="none"/>
    <path d="M1308.0,314.0 L1313.0,314.0" stroke="#555" stroke-width="0.7" fill="none"/>
    <rect x="1250.0" y="285.9" width="6.0" height="2.4" fill="#e3e4e4"/>
    <path d="M1086.5,318.8 L1108.0,318.8" stroke="#555" stroke-width="0.9" fill="none"/>
    <rect x="1085.2" y="321.5" width="33.2" height="38.1" fill="#fff"/>
    <path d="M1094.0,323.5 L1110.0,323.5" stroke="#444" stroke-width="0.8" fill="none"/>
    <path d="M1089.16,352.27 A12.9,12.9 0 1 1 1113.84,352.27" fill="none" stroke="#1f57b8" stroke-width="5.2"/>
    <text x="1101.6" y="352.2" text-anchor="middle" style="font-size:6.6px;fill:#1f57b8;font-weight:bold">101%</text>
    <rect x="1119.8" y="321.5" width="57.2" height="38.1" fill="#fff"/>
    <path d="M1142.0,323.5 L1155.0,323.5" stroke="#555" stroke-width="0.7" fill="none"/>
    <text x="1121.3" y="329.0" text-anchor="start" style="font-size:2.7px;fill:#222;font-weight:normal">otelcollector_uptime (JOB)</text>
    <text x="1175.6" y="332.6" text-anchor="end" style="font-size:6px;fill:#2a5fc4;font-weight:bold">0.413</text>
    <text x="1121.3" y="347.0" text-anchor="start" style="font-size:2.7px;fill:#222;font-weight:normal">otelcol uptime</text>
    <text x="1175.6" y="350.2" text-anchor="end" style="font-size:6px;fill:#b7091d;font-weight:bold">10.4</text>
    <rect x="1119.8" y="352.0" width="57.2" height="7.6" fill="#f3c5c9"/>
    <rect x="1178.4" y="321.5" width="33.8" height="38.1" fill="#fff"/>
    <path d="M1193.5,323.5 L1197.0,323.5" stroke="#666" stroke-width="0.7" fill="none"/>
    <path d="M1183.05,351.68 A12.6,12.6 0 1 1 1207.15,351.68" fill="none" stroke="#eff1f1" stroke-width="4.3"/>
    <text x="1195.3" y="352.2" text-anchor="middle" style="font-size:8.4px;fill:#1f57b8;font-weight:bold">10.8</text>
    <rect x="1213.5" y="321.5" width="92.7" height="38.1" fill="#fff"/>
    <path d="M1247.6,329.0 L1269.8,340.6" stroke="#aaa" stroke-width="0.45" fill="none"/>
    <path d="M1247.6,352.0 L1269.8,340.6" stroke="#aaa" stroke-width="0.45" fill="none"/>
    <circle cx="1247.6" cy="329.0" r="4.8" fill="#fff" stroke="#9a9a9a" stroke-width="0.4"/>
    <path d="M1246.0,335.4 L1249.2,335.4" stroke="#b5b5b5" stroke-width="0.6" fill="none"/>
    <circle cx="1269.8" cy="340.6" r="4.8" fill="#fff" stroke="#9a9a9a" stroke-width="0.4"/>
    <path d="M1268.2,347.0 L1271.4,347.0" stroke="#b5b5b5" stroke-width="0.6" fill="none"/>
    <circle cx="1247.6" cy="352.0" r="4.8" fill="#fff" stroke="#9a9a9a" stroke-width="0.4"/>
    <path d="M1246.0,358.4 L1249.2,358.4" stroke="#b5b5b5" stroke-width="0.6" fill="none"/>
    <rect x="1298.0" y="350.6" width="2.6" height="2.0" fill="#cfd2d4"/>
    <rect x="1301.4" y="350.6" width="2.6" height="2.0" fill="#cfd2d4"/>
    <rect x="1298.0" y="354.4" width="2.6" height="2.0" fill="#e2e4e5"/>
    <rect x="1301.4" y="354.4" width="2.6" height="2.0" fill="#777"/>
    <rect x="1307.0" y="321.5" width="7.0" height="38.1" fill="#fff"/>
    <path d="M1307.5,324.0 L1313.0,324.0" stroke="#444" stroke-width="0.8" fill="none"/>
    <path d="M1307.5,328.0 L1312.0,328.0" stroke="#888" stroke-width="0.6" fill="none"/>
    <path d="M1307.5,331.5 L1311.0,331.5" stroke="#aaa" stroke-width="0.6" fill="none"/>
    <rect x="1084.3" y="120.4" width="230.6" height="239.8" fill="none" stroke="#000" stroke-width="1.2"/>
  </g>
</g>
<g id="texts">
  <text class="blk" x="52" y="83" style="font-size:15px">opentelemetry</text>
  <text class="blk" x="52" y="101" style="font-size:15px">demo app</text>
  <text class="lbl" x="108.7" y="301.6" style="fill:#232f3e">agent</text>
  <text class="lbl" x="108.7" y="318.8" style="fill:#232f3e">sdk</text>
  <text class="lbl" x="530" y="40.2" style="font-weight:bold">opentelemetry collector contrib</text>
  <text class="blk" x="262.2" y="84">Traces Pipeline</text>
  <text class="blk" x="262.2" y="584.3" style="fill:#333">Metrics Pipeline</text>
  <text class="lbl" x="320" y="119.5">otlp receiver</text>
  <text class="lbl" x="430.3" y="123.8">spanmetrics</text>
  <text class="lbl" x="430.3" y="140.7">processor</text>
  <text class="lbl" x="610.5" y="122.8">batch</text>
  <text class="lbl" x="610.5" y="140.2">processor</text>
  <text class="lbl" x="710" y="123.8">otlp</text>
  <text class="lbl" x="710" y="140.7">exporter</text>
  <text class="lbl" x="709.8" y="229.6">logging</text>
  <text class="lbl" x="709.8" y="246.5">exporter</text>
  <text class="lbl" x="430" y="390">filter</text>
  <text class="lbl" x="430" y="407">processor</text>
  <text class="lbl" x="520" y="390">transform</text>
  <text class="lbl" x="520" y="407">processor</text>
  <text class="lbl" x="710" y="382.8">prometheus</text>
  <text class="lbl" x="710" y="399.7">exporter</text>
  <text class="lbl" x="709.8" y="489.7">logging</text>
  <text class="lbl" x="709.8" y="506.6">exporter</text>
  <text class="lbl" x="609.4" y="622.6" style="fill:#000">otelcol</text>
  <text class="lbl" x="611" y="639.9" style="fill:#000">process</text>
  <text class="blk" x="790" y="428.6">9464</text>
  <text class="blk" x="790" y="620">8888</text>
  <rect x="813" y="428" width="33" height="13" fill="#fff"/>
  <text class="blk" x="813.2" y="437.5" style="font-size:11px">scrape</text>
  <rect x="814" y="621.3" width="33" height="13" fill="#fff"/>
  <text class="blk" x="814.2" y="630.8" style="font-size:11px">scrape</text>
  <text class="blk" x="953" y="369.7" style="fill:#333">Prometheus</text>
  <text class="lbl" x="978.4" y="466.5" style="fill:#000">otel-collector</text>
  <text class="lbl" x="974.1" y="664.5" style="fill:#000">otel</text>
  <text class="lbl" x="1199.7" y="519.8" style="fill:#000">datasource</text>
  <rect x="1061" y="506" width="43" height="24" fill="#fff"/>
  <text class="blk" x="1061.4" y="526" style="fill:#777">promql</text>
</g>
</svg>
</body>
</html>
